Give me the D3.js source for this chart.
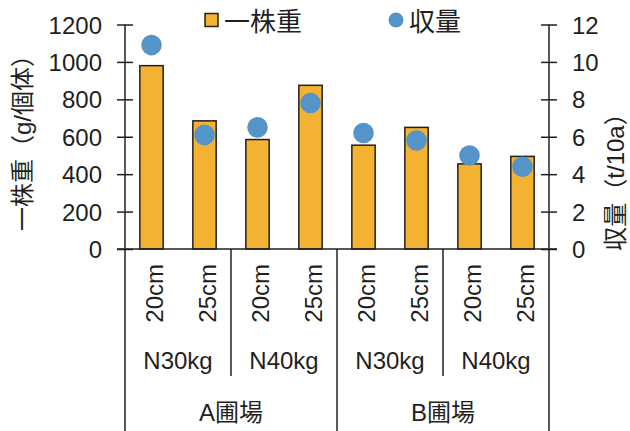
<!DOCTYPE html>
<html>
<head>
<meta charset="utf-8">
<script src="https://cdn.jsdelivr.net/npm/d3@7"></script>
<style>
  html, body { margin: 0; padding: 0; background: #fff; }
  svg text { font-family: "Liberation Sans", Arial, "Noto Sans CJK JP", sans-serif; fill: #231f20; }
</style>
</head>
<body>
<svg id="chart" width="630" height="431"></svg>
<script>
// Spacing (cm), nitrogen level and field for each bar
const spacing = ["20cm", "25cm", "20cm", "25cm", "20cm", "25cm", "20cm", "25cm"];
const nitrogen = ["N30kg", "N40kg", "N30kg", "N40kg"];
const fields = ["A圃場", "B圃場"];
// Weight per plant (g/plant) and yield (t/10a)
const plantWeight = [980, 685, 585, 875, 555, 650, 455, 495];
const yieldT = [10.9, 6.1, 6.5, 7.8, 6.2, 5.8, 5.0, 4.4];
const leftTicks = [0, 200, 400, 600, 800, 1000, 1200];
const rightTicks = [0, 2, 4, 6, 8, 10, 12];

const ink = "#231f20";
const barFill = "#f4b233";
const dotFill = "#5594c9";

const svg = d3.select("#chart");
const plotL = 125, plotR = 549, plotT = 24.5, base = 249;

const idx = d3.range(plantWeight.length);
const x = d3.scaleBand().domain(idx).range([plotL, plotR]).paddingInner(0.56).paddingOuter(0.28);
const step = (plotR - plotL) / idx.length;
const yL = d3.scaleLinear().domain([0, 1200]).range([base, plotT]);
const yR = d3.scaleLinear().domain([0, 12]).range([base, plotT]);

// Bars
svg.append("g").selectAll("rect").data(idx).join("rect")
  .attr("x", i => x(i))
  .attr("width", x.bandwidth())
  .attr("y", i => yL(plantWeight[i]))
  .attr("height", i => base - yL(plantWeight[i]))
  .attr("fill", barFill).attr("stroke", ink).attr("stroke-width", 1.5);

// Yield points
svg.append("g").selectAll("circle").data(idx).join("circle")
  .attr("cx", i => x(i) + x.bandwidth() / 2)
  .attr("cy", i => yR(yieldT[i]))
  .attr("r", 10.3)
  .attr("fill", dotFill);

// Left axis (cross ticks)
const axL = svg.append("g").attr("transform", `translate(${plotL},0)`)
  .call(d3.axisLeft(yL).tickValues(leftTicks).tickSize(0).tickFormat(""));
axL.select(".domain").remove();
axL.selectAll(".tick").append("line").attr("x1", -8).attr("x2", 8).attr("stroke", ink).attr("stroke-width", 1.5);
axL.selectAll(".tick").append("text").attr("x", -23).attr("dy", "0.36em")
  .attr("text-anchor", "end").style("font-size", "24px").text(d => d);

// Right axis (cross ticks)
const axR = svg.append("g").attr("transform", `translate(${plotR},0)`)
  .call(d3.axisRight(yR).tickValues(rightTicks).tickSize(0).tickFormat(""));
axR.select(".domain").remove();
axR.selectAll(".tick").append("line").attr("x1", -8).attr("x2", 8).attr("stroke", ink).attr("stroke-width", 1.5);
axR.selectAll(".tick").append("text").attr("x", 23).attr("dy", "0.36em")
  .attr("text-anchor", "start").style("font-size", "24px").text(d => d);

// Axis lines, baseline and category dividers
const lines = svg.append("g").attr("stroke", ink).attr("stroke-width", 1.5);
lines.append("line").attr("x1", plotL).attr("x2", plotL).attr("y1", plotT).attr("y2", 431);
lines.append("line").attr("x1", plotR).attr("x2", plotR).attr("y1", plotT).attr("y2", 431);
lines.append("line").attr("x1", plotL - 8).attr("x2", plotR + 8).attr("y1", base).attr("y2", base);
[2, 6].forEach(k => lines.append("line")
  .attr("x1", plotL + k * step).attr("x2", plotL + k * step).attr("y1", base).attr("y2", 376));
lines.append("line").attr("x1", plotL + 4 * step).attr("x2", plotL + 4 * step).attr("y1", base).attr("y2", 431);

// Spacing labels (rotated)
svg.append("g").selectAll("text").data(idx).join("text")
  .attr("transform", i => `translate(${x(i) + x.bandwidth() / 2 + 11.5},264) rotate(-90)`)
  .attr("text-anchor", "end").style("font-size", "24px")
  .text(i => spacing[i]);

// Nitrogen labels
svg.append("g").selectAll("text").data(nitrogen).join("text")
  .attr("x", (d, i) => plotL + (i * 2 + 1) * step)
  .attr("y", 369).attr("text-anchor", "middle").style("font-size", "24px")
  .text(d => d);

// Field labels
svg.append("g").selectAll("text").data(fields).join("text")
  .attr("x", (d, i) => plotL + (i * 4 + 2) * step)
  .attr("y", 421).attr("text-anchor", "middle").style("font-size", "24px")
  .text(d => d);

// Axis titles
svg.append("text").attr("transform", "translate(31,137) rotate(-90)")
  .attr("text-anchor", "middle").style("font-size", "24px").text("一株重（g/個体）");
svg.append("text").attr("transform", "translate(624,176) rotate(-90)")
  .attr("text-anchor", "middle").style("font-size", "24px").text("収量（t/10a）");

// Legend
svg.append("rect").attr("x", 205).attr("y", 13.5).attr("width", 13).attr("height", 13)
  .attr("fill", barFill).attr("stroke", ink).attr("stroke-width", 1.5);
svg.append("text").attr("x", 224).attr("y", 31).style("font-size", "26px").text("一株重");
svg.append("circle").attr("cx", 396).attr("cy", 20).attr("r", 7.5).attr("fill", dotFill);
svg.append("text").attr("x", 409).attr("y", 31).style("font-size", "26px").text("収量");
</script>
</body>
</html>
